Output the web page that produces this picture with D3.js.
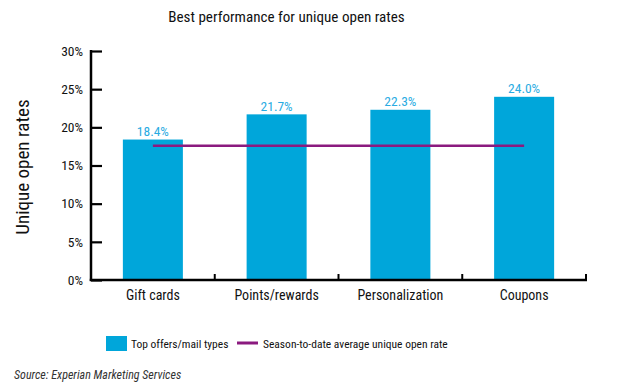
<!DOCTYPE html>
<html>
<head>
<meta charset="utf-8">
<script src="https://cdn.jsdelivr.net/npm/d3@7"></script>
<style>
  body { margin: 0; background: #fff; }
  svg text { font-family: "Roboto Condensed", "Liberation Sans", Arial, sans-serif; }
</style>
</head>
<body>
<div id="main"></div>
<script>
const categories = ["Gift cards", "Points/rewards", "Personalization", "Coupons"];
const rates = [18.4, 21.7, 22.3, 24.0];
const averageRate = 17.6;
const yTicks = [0, 5, 10, 15, 20, 25, 30];

const barColor = "#00a6da";
const labelColor = "#29abe2";
const lineColor = "#8b1a7f";

const svgWidth = 619;
const svgHeight = 389;
const svg = d3.select("#main")
              .append("svg")
              .attr("width", svgWidth)
              .attr("height", svgHeight);

const plotLeft = 91, plotRight = 586, plotTop = 51, plotBottom = 280;

const xScale = d3.scaleBand()
                 .domain(categories)
                 .range([plotLeft, plotRight])
                 .paddingInner(0.515)
                 .paddingOuter(0.2575);

const yScale = d3.scaleLinear()
                 .domain([0, 30])
                 .range([plotBottom, plotTop]);

// title
svg.append("text")
   .attr("x", 286.5)
   .attr("y", 22)
   .attr("text-anchor", "middle")
   .attr("font-size", 15.1)
   .attr("fill", "#111")
   .text("Best performance for unique open rates");

// y axis title
svg.append("text")
   .attr("transform", "translate(28.5,167) rotate(-90)")
   .attr("text-anchor", "middle")
   .attr("font-size", 19)
   .attr("fill", "#111")
   .text("Unique open rates");

// bars
svg.selectAll(".bar")
   .data(rates)
   .enter()
   .append("rect")
   .attr("class", "bar")
   .attr("x", (d, i) => xScale(categories[i]))
   .attr("y", d => yScale(d))
   .attr("width", xScale.bandwidth())
   .attr("height", d => yScale(0) - yScale(d))
   .attr("fill", barColor);

// value labels
svg.selectAll(".val")
   .data(rates)
   .enter()
   .append("text")
   .attr("class", "val")
   .attr("x", (d, i) => xScale(categories[i]) + xScale.bandwidth() / 2)
   .attr("y", d => yScale(d) - 3.5)
   .attr("text-anchor", "middle")
   .attr("font-size", 13.5)
   .attr("fill", labelColor)
   .text(d => d.toFixed(1) + "%");

// average line, from first bar centre to last bar centre
const firstC = xScale(categories[0]) + xScale.bandwidth() / 2;
const lastC = xScale(categories[categories.length - 1]) + xScale.bandwidth() / 2;
svg.append("line")
   .attr("x1", firstC)
   .attr("x2", lastC)
   .attr("y1", yScale(averageRate))
   .attr("y2", yScale(averageRate))
   .attr("stroke", lineColor)
   .attr("stroke-width", 2.5);

// y axis
const yAxis = d3.axisLeft(yScale)
                .tickValues(yTicks)
                .tickSize(-11)
                .tickPadding(8)
                .tickFormat(d => d + "%");

const yG = svg.append("g")
   .attr("transform", "translate(" + plotLeft + ",0)")
   .call(yAxis);
yG.select(".domain").remove();
yG.selectAll(".tick line").attr("stroke", "#000").attr("stroke-width", 2.2);
yG.selectAll(".tick text")
  .attr("font-size", 13.5)
  .attr("fill", "#111");

svg.append("line")
   .attr("x1", plotLeft).attr("x2", plotLeft)
   .attr("y1", yScale(30) - 1).attr("y2", plotBottom + 1)
   .attr("stroke", "#000")
   .attr("stroke-width", 2.5);

// x axis
const xAxis = d3.axisBottom(xScale).tickSize(0).tickPadding(10);
const xG = svg.append("g")
   .attr("transform", "translate(0," + plotBottom + ")")
   .call(xAxis);
xG.select(".domain").remove();
xG.selectAll(".tick text")
  .attr("font-size", 14)
  .attr("fill", "#111");

svg.append("line")
   .attr("x1", plotLeft - 1.25).attr("x2", plotRight + 1)
   .attr("y1", plotBottom).attr("y2", plotBottom)
   .attr("stroke", "#000")
   .attr("stroke-width", 2.5);

// category boundary ticks
const boundaries = categories.map(c => xScale(c) + xScale.bandwidth() + xScale.step() * xScale.paddingInner() / 2);
svg.selectAll(".xtick")
   .data(boundaries)
   .enter()
   .append("line")
   .attr("x1", d => d).attr("x2", d => d)
   .attr("y1", plotBottom).attr("y2", plotBottom - 6)
   .attr("stroke", "#000")
   .attr("stroke-width", 2);

// legend
const legend = svg.append("g");
legend.append("rect")
      .attr("x", 106).attr("y", 336)
      .attr("width", 21).attr("height", 15)
      .attr("fill", barColor);
legend.append("text")
      .attr("x", 131).attr("y", 347.5)
      .attr("font-size", 11.5)
      .attr("fill", "#111")
      .text("Top offers/mail types");
legend.append("line")
      .attr("x1", 237).attr("x2", 258)
      .attr("y1", 343).attr("y2", 343)
      .attr("stroke", lineColor)
      .attr("stroke-width", 3);
legend.append("text")
      .attr("x", 263).attr("y", 347.5)
      .attr("font-size", 11.5)
      .attr("fill", "#111")
      .text("Season-to-date average unique open rate");

// source
svg.append("text")
   .attr("x", 14).attr("y", 379)
   .attr("font-size", 12)
   .attr("font-style", "italic")
   .attr("fill", "#333")
   .text("Source: Experian Marketing Services");
</script>
</body>
</html>
